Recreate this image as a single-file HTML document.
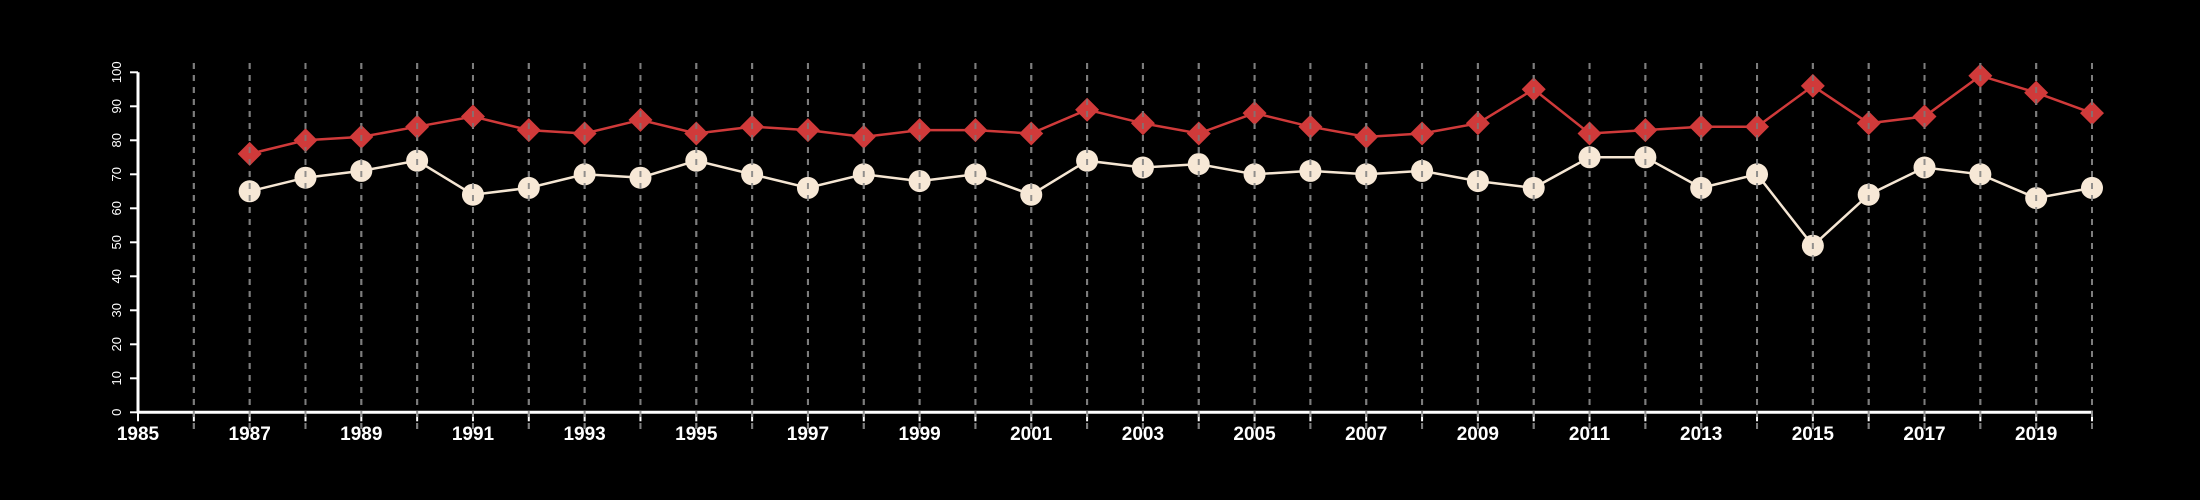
<!DOCTYPE html>
<html><head><meta charset="utf-8">
<style>html,body{margin:0;padding:0;background:#000;}svg{display:block;font-family:"Liberation Sans",Arial,sans-serif;}</style>
</head><body>
<svg id="chart" width="2200" height="500" viewBox="0 0 2200 500" xmlns="http://www.w3.org/2000/svg">
<rect width="2200" height="500" fill="#000"/>
<g id="grid"></g><g id="axes"></g><g id="series"></g><g id="grid-top"></g>
</svg>
<script>
const years = [1987,1988,1989,1990,1991,1992,1993,1994,1995,1996,1997,1998,1999,2000,2001,2002,2003,2004,2005,2006,2007,2008,2009,2010,2011,2012,2013,2014,2015,2016,2017,2018,2019,2020];
const redValues = [76,80,81,84,87,83,82,86,82,84,83,81,83,83,82,89,85,82,88,84,81,82,85,95,82,83,84,84,96,85,87,99,94,88];
const creamValues = [65,69,71,74,64,66,70,69,74,70,66,70,68,70,64,74,72,73,70,71,70,71,68,66,75,75,66,70,49,64,72,70,63,66];
const yTicks = [0,10,20,30,40,50,60,70,80,90,100];
const xTickLabels = [1985,1987,1989,1991,1993,1995,1997,1999,2001,2003,2005,2007,2009,2011,2013,2015,2017,2019];

const NS="http://www.w3.org/2000/svg";
const X0=138, X1=2092, Y0=412.3, Y1=72.3, YMIN=1985, YMAX=2020;
const xs=y=>X0+(y-YMIN)*(X1-X0)/(YMAX-YMIN);
const ys=v=>Y0-(v-0)*(Y0-Y1)/100;
function mk(tag,attrs,parent){const e=document.createElementNS(NS,tag);for(const k in attrs)e.setAttribute(k,attrs[k]);parent.appendChild(e);return e;}
const grid=document.getElementById('grid'),axes=document.getElementById('axes'),series=document.getElementById('series'),gridTop=document.getElementById('grid-top');

for(let y=YMIN+1;y<=YMAX;y++){
  const g=mk('line',{x1:xs(y),x2:xs(y),y1:63,y2:430,stroke:'#8a8a8a','stroke-width':2,'stroke-dasharray':'6,6'},grid);
  
  
}
// axes
let a=mk('line',{x1:X0,x2:X0,y1:Y1,y2:Y0+1,stroke:'#fff','stroke-width':3},axes);

a=mk('line',{x1:X0-1,x2:X1+1,y1:Y0,y2:Y0,stroke:'#fff','stroke-width':3},axes);

yTicks.forEach(v=>{
  const t=mk('line',{x1:X0-8,x2:X0,y1:ys(v),y2:ys(v),stroke:'#fff','stroke-width':2},axes);
  
  const l=mk('text',{x:0,y:0,transform:`translate(${X0-17},${ys(v)}) rotate(-90)`,fill:'#fff','font-size':13,'text-anchor':'middle'},axes);
  l.textContent=v;
  
});
for(let y=YMIN;y<=YMAX;y++){
  const t=mk('line',{x1:xs(y),x2:xs(y),y1:Y0,y2:Y0+9,stroke:'#fff','stroke-width':2},axes);
  
}
xTickLabels.forEach(y=>{
  const l=mk('text',{x:xs(y),y:440,fill:'#fff','font-size':19,'font-weight':'bold','text-anchor':'middle'},axes);
  l.textContent=y;
  
});
// series lines
function pts(vals){return vals.map((v,i)=>xs(years[i])+','+ys(v)).join(' ');}
let pl=mk('polyline',{points:pts(redValues),fill:'none',stroke:'#d03a3a','stroke-width':2.5},series);

pl=mk('polyline',{points:pts(creamValues),fill:'none',stroke:'#f5e6d3','stroke-width':2.5},series);

redValues.forEach((v,i)=>{
  const cx=xs(years[i]),cy=ys(v),r=12;
  const d=mk('polygon',{points:`${cx},${cy-r} ${cx+r},${cy} ${cx},${cy+r} ${cx-r},${cy}`,fill:'#d03a3a'},series);
  
});
creamValues.forEach((v,i)=>{
  const c=mk('circle',{cx:xs(years[i]),cy:ys(v),r:11,fill:'#f7e8d6'},series);
  
});
// gridlines visible through markers
for(let y=YMIN+1;y<=YMAX;y++){
  const g=mk('line',{x1:xs(y),x2:xs(y),y1:63,y2:430,stroke:'#7a7a7a','stroke-width':2,'stroke-dasharray':'6,6',opacity:0.8},gridTop);
  
  
}
</script>
</body></html>
